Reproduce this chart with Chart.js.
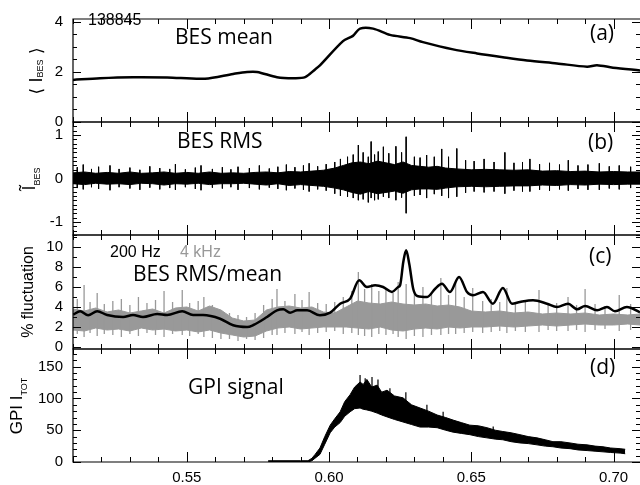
<!DOCTYPE html>
<html lang="en">
<head>
<meta charset="UTF-8" />
<title>BES mean / RMS / GPI signal, shot 138845</title>
<script src="https://cdn.jsdelivr.net/npm/chart.js"></script>
<style>
  body { margin: 0; background: #fff; }
  #stack { position: relative; width: 640px; height: 485px; }
  #stack canvas { position: absolute; left: 0; top: 0; }
</style>
</head>
<body>
<div id="stack">
  <canvas id="panelA" width="640" height="485"></canvas>
  <canvas id="panelB" width="640" height="485"></canvas>
  <canvas id="panelC" width="640" height="485"></canvas>
  <canvas id="panelD" width="640" height="485"></canvas>
</div>
<script>
// time axis (s)
const X_MIN = 0.510, X_MAX = 0.7093;
const xMajorTicks = [0.55, 0.60, 0.65, 0.70];

// (a) BES mean
const aTime = [0.510,0.5195,0.5311,0.5431,0.5564,0.5663,0.5712,0.5747,0.5817,0.5874,0.5916,0.5951,0.5968,0.6049,0.6084,0.6109,0.6155,0.6214,0.6285,0.6330,0.6436,0.6520,0.6611,0.6696,0.6801,0.6907,0.6942,0.6998,0.7093];
const aMean = [1.68,1.75,1.79,1.78,1.73,1.92,2.0,2.0,1.79,1.75,1.79,2.1,2.26,3.23,3.44,3.73,3.73,3.48,3.35,3.19,2.9,2.74,2.59,2.46,2.34,2.21,2.27,2.17,2.06];

// (b) BES RMS: envelope of the fluctuation trace + larger excursions
const bTime  = [0.510,0.514,0.518,0.522,0.526,0.530,0.534,0.538,0.542,0.546,0.550,0.554,0.558,0.562,0.566,0.570,0.574,0.578,0.582,0.586,0.590,0.594,0.598,0.602,0.605,0.608,0.611,0.614,0.617,0.620,0.623,0.626,0.629,0.632,0.635,0.638,0.641,0.645,0.650,0.655,0.660,0.665,0.670,0.675,0.680,0.685,0.690,0.695,0.700,0.705,0.7093];
const bUpper = [0.13,0.15,0.12,0.14,0.12,0.15,0.12,0.13,0.15,0.12,0.14,0.12,0.15,0.12,0.13,0.12,0.14,0.15,0.13,0.16,0.15,0.17,0.19,0.24,0.3,0.36,0.38,0.34,0.4,0.36,0.32,0.38,0.3,0.28,0.26,0.28,0.24,0.22,0.2,0.21,0.2,0.19,0.2,0.17,0.18,0.16,0.17,0.15,0.16,0.15,0.15];
const bLower = [-0.12,-0.14,-0.11,-0.13,-0.12,-0.14,-0.11,-0.12,-0.15,-0.12,-0.13,-0.11,-0.14,-0.12,-0.12,-0.11,-0.13,-0.15,-0.12,-0.16,-0.14,-0.16,-0.18,-0.22,-0.26,-0.32,-0.36,-0.3,-0.35,-0.32,-0.29,-0.34,-0.26,-0.24,-0.24,-0.25,-0.22,-0.19,-0.18,-0.19,-0.18,-0.17,-0.17,-0.15,-0.16,-0.14,-0.15,-0.13,-0.14,-0.13,-0.13];
const bSpikeTime = [0.5115,0.5136,0.5165,0.5190,0.5230,0.5262,0.5300,0.5335,0.5370,0.5405,0.5440,0.5460,0.5495,0.5530,0.5550,0.5590,0.5625,0.5655,0.5680,0.5720,0.5755,0.5790,0.5820,0.5850,0.5880,0.5910,0.5930,0.5960,0.5990,
  0.6020,0.6040,0.6065,0.6085,0.6103,0.6120,0.6138,0.6148,0.6160,0.6173,0.6191,0.6210,0.6235,0.6255,0.6271,0.6300,0.6320,0.6343,0.6370,0.6396,0.6420,0.6449,0.6480,0.6510,0.6545,0.6580,0.6618,0.6650,0.6680,0.6706,0.6740,0.6775,0.6810,0.6841,0.6875,0.6910,0.6950,0.6985,0.7020,0.7060];
const bSpikeTop = [0.26,0.32,0.22,0.27,0.3,0.22,0.25,0.2,0.28,0.24,0.22,0.33,0.21,0.25,0.3,0.22,0.26,0.21,0.27,0.24,0.3,0.23,0.27,0.32,0.26,0.3,0.35,0.28,0.33,
  0.38,0.45,0.5,0.55,0.77,0.6,0.5,0.85,0.55,0.62,0.73,0.58,0.74,0.6,0.96,0.5,0.48,0.54,0.5,0.68,0.5,0.69,0.42,0.4,0.45,0.38,0.6,0.36,0.38,0.45,0.33,0.36,0.32,0.42,0.3,0.32,0.35,0.28,0.3,0.27];
const bSpikeBot = [-0.22,-0.25,-0.2,-0.24,-0.27,-0.2,-0.23,-0.26,-0.21,-0.25,-0.22,-0.26,-0.2,-0.24,-0.27,-0.21,-0.23,-0.2,-0.26,-0.22,-0.25,-0.21,-0.24,-0.27,-0.23,-0.26,-0.3,-0.25,-0.28,
  -0.35,-0.4,-0.42,-0.45,-0.5,-0.48,-0.55,-0.45,-0.5,-0.48,-0.42,-0.45,-0.5,-0.44,-0.8,-0.4,-0.38,-0.45,-0.36,-0.4,-0.45,-0.42,-0.33,-0.3,-0.32,-0.3,-0.35,-0.28,-0.3,-0.3,-0.26,-0.28,-0.25,-0.28,-0.24,-0.26,-0.26,-0.23,-0.25,-0.22];

// (c) RMS/mean, 200 Hz smoothed (black) and 4 kHz (grey)
const cTime200 = [0.5101,0.5125,0.5153,0.5185,0.5220,0.5276,0.5311,0.5346,0.5396,0.5431,0.5484,0.5522,0.5557,0.5617,0.5663,0.5712,0.5734,0.5782,0.5817,0.5839,0.5863,0.5888,0.5923,0.5968,0.6004,0.6039,0.6074,0.6106,0.6133,0.6162,0.6190,0.6221,0.6243,0.6250,0.6261,0.6271,0.6282,0.6296,0.6310,0.6345,0.6373,0.6397,0.6425,0.6457,0.6485,0.6506,0.6541,0.6576,0.6611,0.6643,0.6671,0.6717,0.6766,0.6801,0.6840,0.6872,0.6900,0.6942,0.6977,0.7005,0.7047,0.7093];
const cFluct200 = [3.24,3.57,3.17,3.57,3.2,3.0,3.2,3.0,3.3,3.2,3.57,3.2,3.2,2.83,2.17,2.0,2.2,3.0,3.67,3.77,3.43,3.67,3.67,3.17,3.43,4.33,4.83,6.67,6.0,6.17,6.0,5.5,6.0,6.2,8.5,9.67,8.3,5.8,5.1,5.0,5.83,6.33,5.5,7.0,5.5,5.17,5.5,4.33,5.9,4.33,4.5,4.67,4.33,4.0,4.33,3.77,4.1,3.67,4.0,3.57,4.0,3.47];
const cTime4k  = [0.510,0.514,0.518,0.522,0.526,0.530,0.534,0.538,0.542,0.546,0.550,0.554,0.558,0.562,0.566,0.570,0.574,0.578,0.582,0.586,0.590,0.594,0.598,0.602,0.606,0.610,0.614,0.618,0.622,0.626,0.630,0.634,0.638,0.642,0.646,0.650,0.655,0.660,0.665,0.670,0.675,0.680,0.685,0.690,0.695,0.700,0.705,0.7093];
const cUpper4k = [3.8,3.6,3.9,3.5,3.7,3.4,3.6,3.8,3.4,3.9,4.0,3.6,4.1,3.7,2.9,2.6,2.7,3.7,4.0,4.1,3.9,4.0,3.5,3.4,4.0,4.6,4.4,4.3,4.5,4.3,4.2,4.3,4.1,4.2,4.0,3.6,3.5,3.6,3.4,3.5,3.3,3.4,3.3,3.4,3.2,3.3,3.2,3.3];
const cLower4k = [1.7,1.6,1.9,1.7,1.8,1.6,1.9,1.7,1.8,1.6,1.7,1.5,1.7,1.4,1.2,1.0,1.1,1.6,1.9,2.0,1.8,1.9,2.0,2.0,2.0,1.9,1.8,2.0,1.7,1.6,1.8,1.9,1.8,2.0,1.9,2.0,2.0,2.1,2.0,2.1,2.2,2.1,2.2,2.3,2.2,2.2,2.3,2.2];
const cSpikeTime = [0.5115,0.5139,0.5160,0.5185,0.5210,0.5240,0.5270,0.5300,0.5330,0.5360,0.5390,0.5420,0.5450,0.5484,0.5510,0.5540,0.5560,0.5590,0.5620,0.5650,
  0.5680,0.5710,0.5740,0.5770,0.5800,0.5817,0.5845,0.5880,0.5905,0.5930,0.5960,0.5990,0.6020,0.6050,0.6080,0.6103,0.6125,0.6150,0.6175,0.6200,
  0.6225,0.6243,0.6271,0.6300,0.6330,0.6360,0.6393,0.6420,0.6445,0.6475,0.6505,0.6540,0.6570,0.6600,0.6625,0.6655,0.6690,0.6738,0.6770,0.6800,
  0.6840,0.6870,0.6900,0.6935,0.6970,0.7020,0.7060];
const cSpikeTop = [4.8,6.2,4.5,5.4,4.3,4.6,4.8,4.2,5.0,4.4,4.7,5.6,4.5,5.7,4.4,4.6,5.0,4.2,3.6,3.4,
  3.2,3.0,3.4,4.2,4.8,5.8,4.6,5.3,4.7,5.5,4.4,4.3,4.5,5.0,5.6,7.5,5.8,6.3,5.6,5.8,
  5.4,6.5,6.3,5.5,6.0,5.4,6.9,5.2,6.5,5.0,5.9,4.6,4.8,4.5,5.9,4.4,4.6,5.7,4.3,4.4,
  5.0,4.2,5.8,4.3,4.1,5.2,4.3];
const cSpikeBot = [1.3,1.0,1.4,1.1,1.3,1.2,1.0,1.3,1.1,1.4,1.2,1.0,1.3,1.2,1.1,1.3,1.0,0.9,0.8,0.8,
  0.6,0.8,0.7,0.9,1.2,1.2,1.4,1.3,1.5,1.2,1.4,1.5,1.6,1.3,1.4,1.2,1.1,1.0,1.3,1.2,
  1.3,1.0,0.8,1.1,1.0,1.2,1.2,1.3,1.3,1.4,1.5,1.4,1.5,1.6,1.4,1.6,1.5,1.5,1.7,1.6,
  1.6,1.7,1.5,1.7,1.8,1.6,1.7];

// (d) GPI total intensity: envelope + spikes
const dTime  = [0.5786,0.5900,0.5926,0.5940,0.5951,0.5968,0.5985,0.6004,0.6020,0.6039,0.6055,0.6074,0.6090,0.6109,0.6120,0.6133,0.6150,0.6169,0.6185,0.6204,0.6230,0.6260,0.6290,0.6320,0.6350,0.6380,0.6410,0.6436,0.6465,0.6495,0.6525,0.6555,0.6585,0.6611,0.6640,0.6671,0.6700,0.6731,0.6760,0.6787,0.6815,0.6847,0.6875,0.6907,0.6935,0.6963,0.6990,0.7023,0.7041];
const dUpper = [2,2,2,6,12,22,40,58,68,79,95,106,118,126,122,130,118,121,110,113,104,101,90,85,80,74,70,66,62,58,57,54,50,48,46,43,40,38,35,32,32,30,28,27,25,24,22,21,20];
const dLower = [0,0,0,2,6,12,28,46,55,62,72,79,84,85,83,82,80,77,74,71,67,63,59,55,55,54,50,47,45,43,40,38,36,35,32,30,29,27,25,24,22,21,19,18,17,16,15,14,13];
const dSpikeTime = [0.6109,0.6127,0.6151,0.6172,0.6214,0.6270,0.6344,0.6401,0.6577];
const dSpikeTop  = [137,132,134,130,116,110,90,79,56];
const dSpikeBot  = [90,88,85,80,75,68,60,55,42];

const GREY = '#999999';
const TICK_FONT = { family: 'Liberation Sans', size: 15 };
const SANS = '"Liberation Sans", Arial, sans-serif';
const CAL = '"Open Sans", sans-serif';

function pts(xs, ys) { return xs.map((x, i) => ({ x: x, y: ys[i] })); }
function spikes(xs, tops, bots) {
  const out = [];
  xs.forEach((x, i) => { out.push({ x: x, y: tops[i] }, { x: x, y: bots[i] }, { x: x, y: null }); });
  return out;
}
function lineDs(data, color, width, extra) {
  return Object.assign({ data: data, borderColor: color, backgroundColor: color, borderWidth: width,
    pointRadius: 0, fill: false, tension: 0 }, extra || {});
}

function drawRotated(ctx, cx, cy, parts) {
  ctx.save();
  ctx.translate(cx, cy);
  ctx.rotate(-Math.PI / 2);
  ctx.textBaseline = 'alphabetic';
  ctx.textAlign = 'left';
  ctx.fillStyle = '#000';
  let w = 0;
  parts.forEach(p => { ctx.font = p.f; w += ctx.measureText(p.t).width; });
  let x = -w / 2;
  parts.forEach(p => { ctx.font = p.f; ctx.fillText(p.t, x, p.dy || 0); x += ctx.measureText(p.t).width; });
  ctx.restore();
}

// frame, inward ticks, axis titles and in-panel notes
const decor = {
  id: 'decor',
  afterDraw(chart, args, o) {
    const ctx = chart.ctx, a = chart.chartArea;
    const xs = chart.scales.x, ys = chart.scales.y;
    const R = 640;
    ctx.save();
    ctx.strokeStyle = '#000';
    ctx.lineWidth = 1.2;
    ctx.beginPath();
    ctx.moveTo(R, a.top); ctx.lineTo(a.left, a.top);
    ctx.lineTo(a.left, a.bottom); ctx.lineTo(R, a.bottom);
    ctx.stroke();

    ctx.lineWidth = 1;
    ctx.beginPath();
    // y ticks, left and right
    const k0 = Math.ceil(o.yMin / o.yMinor - 1e-6), k1 = Math.floor(o.yMax / o.yMinor + 1e-6);
    for (let k = k0; k <= k1; k++) {
      const v = k * o.yMinor;
      const major = o.yMajor.some(m => Math.abs(m - v) < 1e-6);
      const len = major ? 8 : 4;
      const py = Math.round(ys.getPixelForValue(v)) + 0.5;
      ctx.moveTo(a.left, py); ctx.lineTo(a.left + len, py);
      ctx.moveTo(R, py); ctx.lineTo(R - len, py);
    }
    // x ticks, top and bottom
    for (let k = Math.ceil(X_MIN * 100); k <= Math.floor(X_MAX * 100); k++) {
      const v = k / 100;
      const major = xMajorTicks.some(m => Math.abs(m - v) < 1e-6);
      const len = major ? 10 : 5;
      const px = Math.round(xs.getPixelForValue(v)) + 0.5;
      ctx.moveTo(px, a.top); ctx.lineTo(px, a.top + len);
      ctx.moveTo(px, a.bottom); ctx.lineTo(px, a.bottom - len);
    }
    ctx.stroke();

    drawRotated(ctx, o.titleX, o.titleY, o.title);

    ctx.textBaseline = 'middle';
    ctx.textAlign = 'left';
    o.notes.forEach(n => {
      ctx.font = n.f;
      ctx.fillStyle = n.c || '#000';
      ctx.fillText(n.t, n.x, n.y);
    });
    ctx.restore();
  }
};

function makeChart(canvasId, p, datasets) {
  return new Chart(document.getElementById(canvasId), {
    type: 'line',
    data: { datasets: datasets },
    options: {
      responsive: false,
      animation: false,
      devicePixelRatio: 1,
      events: [],
      layout: { padding: { top: p.top, bottom: p.showX ? 0 : 485 - p.bottom, left: 0, right: 0 } },
      scales: {
        x: {
          type: 'linear', min: X_MIN, max: X_MAX,
          display: p.showX,
          afterBuildTicks: s => { s.ticks = xMajorTicks.map(v => ({ value: v })); },
          afterFit: s => { if (p.showX) s.height = 485 - p.bottom; },
          grid: { display: false, drawTicks: false },
          border: { display: false },
          ticks: { font: TICK_FONT, color: '#000', padding: 7, maxRotation: 0, autoSkip: false,
                   callback: v => v.toFixed(2) }
        },
        y: {
          type: 'linear', min: p.yMin, max: p.yMax,
          afterBuildTicks: s => { s.ticks = p.yMajor.map(v => ({ value: v })); },
          afterFit: s => { s.width = 73; },
          grid: { display: false, drawTicks: false },
          border: { display: false },
          ticks: { font: TICK_FONT, color: '#000', padding: 10, callback: v => String(v) }
        }
      },
      plugins: {
        legend: { display: false },
        tooltip: { enabled: false },
        decor: p
      }
    },
    plugins: [decor]
  });
}

const subFont = '9px ' + SANS;

makeChart('panelA', {
  top: 14, bottom: 122, yMin: 0, yMax: 4.114, yMajor: [0, 2, 4], yMinor: 0.5, showX: false,
  titleX: 42, titleY: 71,
  title: [{ t: '\u27E8 ', f: '17px "DejaVu Sans"' }, { t: 'I', f: '18px ' + SANS },
          { t: 'BES', f: subFont, dy: 1 }, { t: ' \u27E9', f: '17px "DejaVu Sans"' }],
  notes: [{ t: '138845', x: 88, y: 21, f: '16px ' + SANS },
          { t: 'BES mean', x: 175, y: 38, f: '21px ' + CAL },
          { t: '(a)', x: 590, y: 34, f: '21px ' + CAL }]
}, [lineDs(pts(aTime, aMean), '#000', 2.5, { tension: 0.3 })]);

makeChart('panelB', {
  top: 122, bottom: 235, yMin: -1.3, yMax: 1.3, yMajor: [-1, 0, 1], yMinor: 0.1, showX: false,
  titleX: 35, titleY: 179,
  title: [{ t: '\u0128', f: '18px ' + SANS }, { t: 'BES', f: subFont, dy: 5 }],
  notes: [{ t: 'BES RMS', x: 177, y: 142, f: '21px ' + CAL },
          { t: '(b)', x: 588, y: 143, f: '21px ' + CAL }]
}, [
  lineDs(spikes(bSpikeTime, bSpikeTop, bSpikeBot), '#000', 1),
  lineDs(pts(bTime, bUpper), '#000', 1, { fill: '+1' }),
  lineDs(pts(bTime, bLower), '#000', 1)
]);

makeChart('panelC', {
  top: 235, bottom: 349, yMin: -0.2, yMax: 11.2, yMajor: [0, 2, 4, 6, 8, 10], yMinor: 1, showX: false,
  titleX: 33, titleY: 292,
  title: [{ t: '% fluctuation', f: '16px ' + SANS }],
  notes: [{ t: '200 Hz', x: 110, y: 253, f: '16px ' + SANS },
          { t: '4 kHz', x: 180, y: 253, f: '16px ' + SANS, c: GREY },
          { t: 'BES RMS/mean', x: 133, y: 275, f: '21px ' + CAL },
          { t: '(c)', x: 589, y: 257, f: '21px ' + CAL }]
}, [
  lineDs(pts(cTime200, cFluct200), '#000', 2.5, { cubicInterpolationMode: 'monotone' }),
  lineDs(spikes(cSpikeTime, cSpikeTop, cSpikeBot), GREY, 1.3),
  lineDs(pts(cTime4k, cUpper4k), GREY, 1, { fill: '+1' }),
  lineDs(pts(cTime4k, cLower4k), GREY, 1)
]);

makeChart('panelD', {
  top: 349, bottom: 462, yMin: 0, yMax: 177.9, yMajor: [0, 50, 100, 150], yMinor: 10, showX: true,
  titleX: 22, titleY: 406,
  title: [{ t: 'GPI I', f: '17px ' + SANS }, { t: 'TOT', f: subFont, dy: 5 }],
  notes: [{ t: 'GPI signal', x: 188, y: 388, f: '21px ' + CAL },
          { t: '(d)', x: 590, y: 368, f: '21px ' + CAL }]
}, [
  lineDs(spikes(dSpikeTime, dSpikeTop, dSpikeBot), '#000', 1.2),
  lineDs(pts(dTime, dUpper), '#000', 1, { fill: '+1' }),
  lineDs(pts(dTime, dLower), '#000', 1)
]);
</script>
</body>
</html>
